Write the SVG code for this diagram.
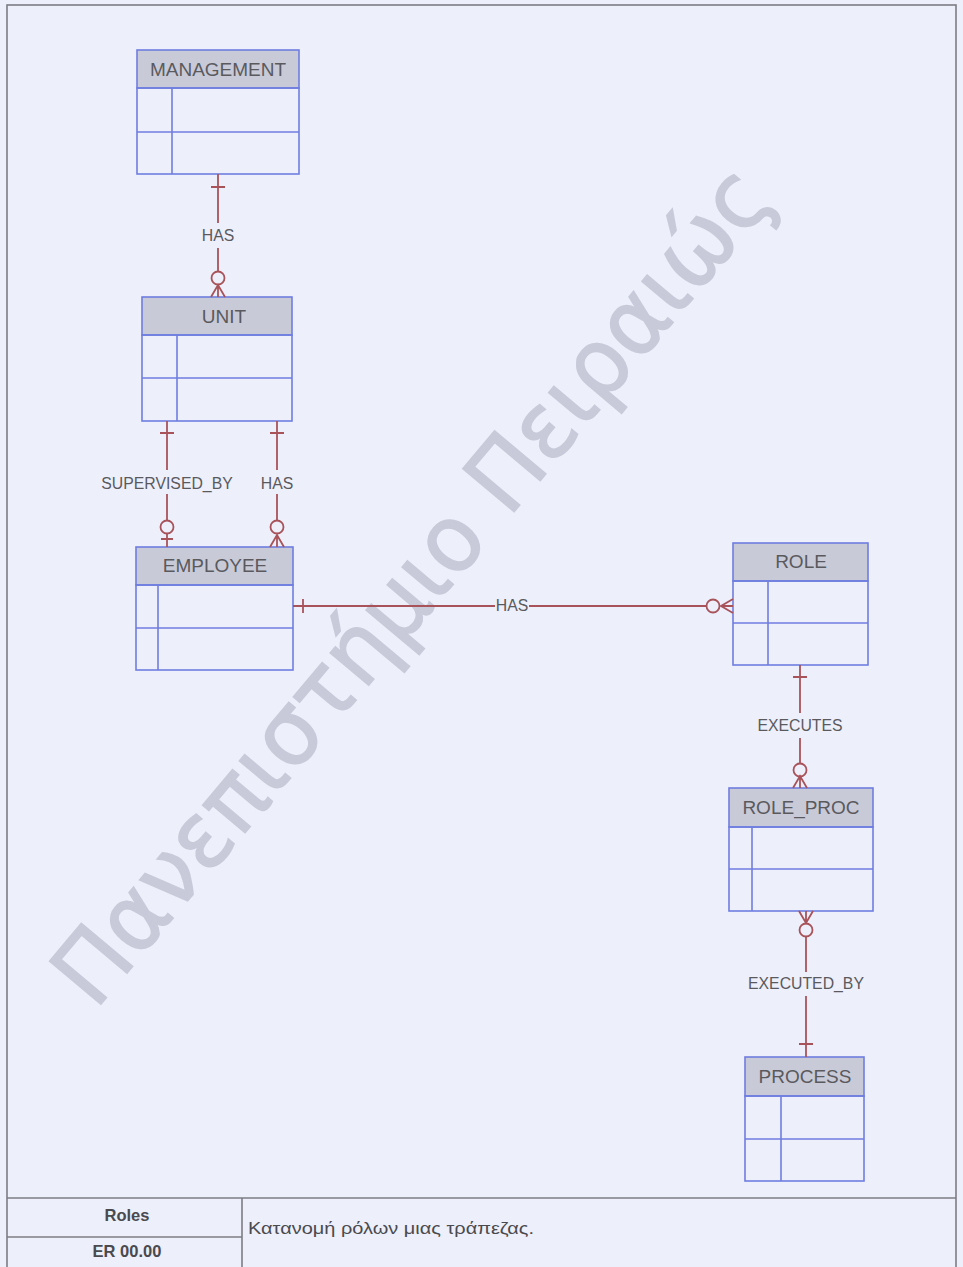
<svg xmlns="http://www.w3.org/2000/svg" width="963" height="1267" viewBox="0 0 963 1267">
<defs>
<style>
.bg{fill:#edeffb}
.frame{fill:none;stroke:#7c7c84;stroke-width:1.6}
.hdr{fill:#c9cad8;stroke:#6f7de0;stroke-width:1.6}
.box{fill:none;stroke:#6f7de0;stroke-width:1.6}
.ttl{font-family:"Liberation Sans",Arial,sans-serif;font-size:19px;fill:#5a5a5e;text-anchor:middle}
.lbl{font-family:"Liberation Sans",Arial,sans-serif;font-size:15.8px;fill:#5a5a5e;text-anchor:middle}
.rel{fill:none;stroke:#a8535a;stroke-width:1.8}
.ft{font-family:"Liberation Sans",Arial,sans-serif;font-size:16.5px;fill:#4a4a4e}
.wm{font-family:"DejaVu Sans","Liberation Sans",sans-serif;font-size:92px;fill:#c8cad9;stroke:#c8cad9;stroke-width:1.5;text-anchor:middle}
</style>
</defs>
<rect class="bg" x="0" y="0" width="963" height="1267"/>
<rect class="frame" x="7" y="5" width="949" height="1270"/>

<g id="watermark">
<text class="wm" transform="translate(436,605) rotate(-50)" textLength="1060" lengthAdjust="spacingAndGlyphs">Πανεπιστήμιο Πειραιώς</text>
</g>

<g id="MANAGEMENT">
<rect class="hdr" x="137" y="50" width="162" height="38"/>
<rect class="box" x="137" y="88" width="162" height="86"/>
<line class="box" x1="137" y1="132" x2="299" y2="132"/>
<line class="box" x1="172" y1="88" x2="172" y2="174"/>
<text class="ttl" x="218" y="76">MANAGEMENT</text>
</g>

<g id="UNIT">
<rect class="hdr" x="142" y="297" width="150" height="38"/>
<rect class="box" x="142" y="335" width="150" height="86"/>
<line class="box" x1="142" y1="378" x2="292" y2="378"/>
<line class="box" x1="177" y1="335" x2="177" y2="421"/>
<text class="ttl" x="224" y="323">UNIT</text>
</g>

<g id="EMPLOYEE">
<rect class="hdr" x="136" y="547" width="157" height="38"/>
<rect class="box" x="136" y="585" width="157" height="85"/>
<line class="box" x1="136" y1="628" x2="293" y2="628"/>
<line class="box" x1="158" y1="585" x2="158" y2="670"/>
<text class="ttl" x="215" y="572">EMPLOYEE</text>
</g>

<g id="ROLE">
<rect class="hdr" x="733" y="543" width="135" height="38"/>
<rect class="box" x="733" y="581" width="135" height="84"/>
<line class="box" x1="733" y1="623" x2="868" y2="623"/>
<line class="box" x1="768" y1="581" x2="768" y2="665"/>
<text class="ttl" x="801" y="568">ROLE</text>
</g>

<g id="ROLE_PROC">
<rect class="hdr" x="729" y="788" width="144" height="39"/>
<rect class="box" x="729" y="827" width="144" height="84"/>
<line class="box" x1="729" y1="869" x2="873" y2="869"/>
<line class="box" x1="752" y1="827" x2="752" y2="911"/>
<text class="ttl" x="801" y="814">ROLE_PROC</text>
</g>

<g id="PROCESS">
<rect class="hdr" x="745" y="1057" width="119" height="39"/>
<rect class="box" x="745" y="1096" width="119" height="85"/>
<line class="box" x1="745" y1="1139" x2="864" y2="1139"/>
<line class="box" x1="781" y1="1096" x2="781" y2="1181"/>
<text class="ttl" x="805" y="1083">PROCESS</text>
</g>

<g id="connectors">
<!-- MANAGEMENT - UNIT -->
<path class="rel" d="M218 174V223M218 248V271M211 187H225M211 297L218 285L225 297M218 285V297"/>
<circle class="rel" cx="218" cy="278" r="6.5"/>
<text class="lbl" x="218" y="241">HAS</text>
<!-- UNIT - EMPLOYEE supervised -->
<path class="rel" d="M167 421V470M167 494V520M160 433H174M167 534V547M161 539H173"/>
<circle class="rel" cx="167" cy="527" r="6.5"/>
<text class="lbl" x="167" y="489">SUPERVISED_BY</text>
<!-- UNIT - EMPLOYEE has -->
<path class="rel" d="M277 421V470M277 494V520M270 433H284M270 547L277 535L284 547M277 535V547"/>
<circle class="rel" cx="277" cy="527" r="6.5"/>
<text class="lbl" x="277" y="489">HAS</text>
<!-- EMPLOYEE - ROLE -->
<path class="rel" d="M293 606H495M529 606H706M303 599V613M733 599L721 606L733 613M721 606H733"/>
<circle class="rel" cx="713" cy="606" r="6.5"/>
<text class="lbl" x="512" y="611">HAS</text>
<!-- ROLE - ROLE_PROC -->
<path class="rel" d="M800 665V713M800 738V763M793 677H807M793 788L800 776L807 788M800 776V788"/>
<circle class="rel" cx="800" cy="770" r="6.5"/>
<text class="lbl" x="800" y="731">EXECUTES</text>
<!-- ROLE_PROC - PROCESS -->
<path class="rel" d="M799 911L806 923L813 911M806 911V923M806 937V972M806 996V1057M799 1044H813"/>
<circle class="rel" cx="806" cy="930" r="6.5"/>
<text class="lbl" x="806" y="989">EXECUTED_BY</text>
</g>

<g id="footer">
<line class="frame" x1="7" y1="1198" x2="956" y2="1198"/>
<line class="frame" x1="242" y1="1198" x2="242" y2="1267"/>
<line class="frame" x1="7" y1="1237" x2="242" y2="1237"/>
<text class="ft" x="127" y="1221" text-anchor="middle" font-weight="bold">Roles</text>
<text class="ft" x="127" y="1257" text-anchor="middle" font-weight="bold">ER 00.00</text>
<text class="ft" x="248" y="1234" font-size="19" textLength="286" lengthAdjust="spacingAndGlyphs">Κατανομή ρόλων μιας τράπεζας.</text>
</g>
</svg>
